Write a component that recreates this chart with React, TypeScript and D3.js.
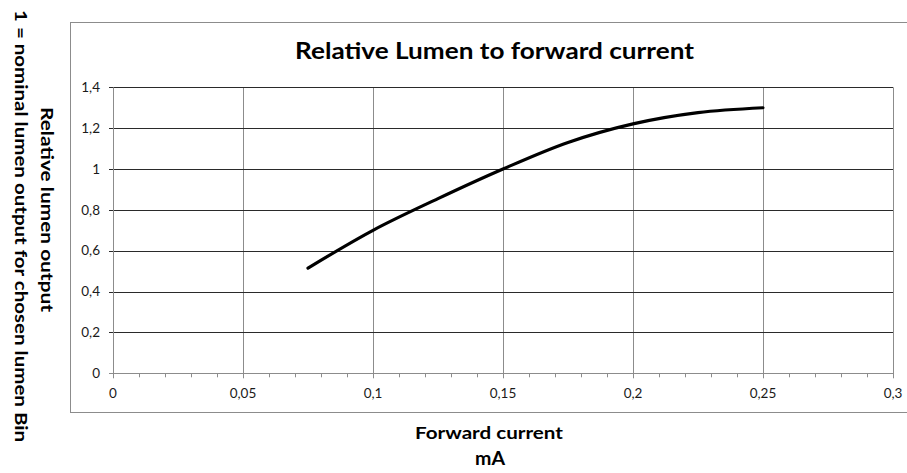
import React from "react";
import * as d3 from "d3";

const currentMA = [0.075, 0.1, 0.125, 0.15, 0.175, 0.2, 0.225, 0.25];
const relativeLumen = [0.515, 0.7, 0.855, 1.0, 1.13, 1.221, 1.276, 1.3];
const xTicks = [0, 0.05, 0.1, 0.15, 0.2, 0.25, 0.3];
const yTicks = [0, 0.2, 0.4, 0.6, 0.8, 1, 1.2, 1.4];
const titleText = "Relative Lumen to forward current";
const xTitle = ["Forward current", "mA"];
const yTitle = ["Relative lumen output", "1 = nominal lumen output for chosen lumen Bin"];

const W = 907;
const H = 473;
const FONT = "Lato, 'Open Sans', sans-serif";

export default function App() {
  const x = d3.scaleLinear().domain([0, 0.3]).range([113, 893]);
  const y = d3.scaleLinear().domain([0, 1.4]).range([373.3, 87.3]);
  const fmt = (v: number) => String(+v.toFixed(2)).replace(".", ",");
  const minor = d3.range(0, 0.3001, 0.01);
  const pts = currentMA.map((c, i) => [c, relativeLumen[i]] as [number, number]);
  const line = d3
    .line<[number, number]>()
    .x((d) => x(d[0]))
    .y((d) => y(d[1]))
    .curve(d3.curveCatmullRom.alpha(0.5));

  return (
    <svg
      width={W}
      height={H}
      style={{ position: "absolute", left: 0, top: 0, background: "#fff" }}
    >
      <rect x={0} y={0} width={W} height={H} fill="#fff" />
      <rect x={70.5} y={22.5} width={850} height={390} fill="none" stroke="#8c8c8c" strokeWidth={1} />
      {/* vertical gridlines */}
      {xTicks.map((t) => (
        <line key={"vx" + t} x1={Math.round(x(t)) + 0.5} x2={Math.round(x(t)) + 0.5} y1={y(1.4)} y2={y(0) + 5} stroke="#8c8c8c" />
      ))}
      {/* minor ticks */}
      {minor.map((t) => (
        <line key={"mx" + t} x1={Math.round(x(t)) + 0.5} x2={Math.round(x(t)) + 0.5} y1={y(0)} y2={y(0) + 4} stroke="#8c8c8c" />
      ))}
      {/* horizontal gridlines */}
      {yTicks.map((t) => (
        <line
          key={"hy" + t}
          x1={x(0) - 4}
          x2={x(0.3)}
          y1={Math.round(y(t)) + 0.5}
          y2={Math.round(y(t)) + 0.5}
          stroke={t === 0 ? "#8c8c8c" : "#2a2a2a"}
        />
      ))}
      <line x1={Math.round(x(0)) + 0.5} x2={Math.round(x(0)) + 0.5} y1={y(1.4)} y2={y(0)} stroke="#8c8c8c" />
      {/* y tick labels */}
      {yTicks.map((t) => (
        <text key={"ly" + t} x={100} y={y(t)} dy="0.35em" textAnchor="end" fontFamily={FONT} fontSize={13.5} fill="#1a1a1a">
          {fmt(t)}
        </text>
      ))}
      {/* x tick labels */}
      {xTicks.map((t) => (
        <text key={"lx" + t} x={x(t)} y={398} textAnchor="middle" fontFamily={FONT} fontSize={13.5} fill="#1a1a1a">
          {fmt(t)}
        </text>
      ))}
      {/* curve */}
      <path d={line(pts) || ""} fill="none" stroke="#000" strokeWidth={3.2} strokeLinecap="round" strokeLinejoin="round" />
      {/* title */}
      <text x={494.5} y={59} textAnchor="middle" fontFamily={FONT} fontWeight="bold" fontSize={22} fill="#000" textLength={399} lengthAdjust="spacingAndGlyphs">
        {titleText}
      </text>
      <text x={489} y={439} textAnchor="middle" fontFamily={FONT} fontWeight="bold" fontSize={17} fill="#000" textLength={148} lengthAdjust="spacingAndGlyphs">
        {xTitle[0]}
      </text>
      <text x={490} y={465} textAnchor="middle" fontFamily={FONT} fontWeight="bold" fontSize={18} fill="#000" textLength={30} lengthAdjust="spacingAndGlyphs">
        {xTitle[1]}
      </text>
      <text transform="translate(41,209.5) rotate(90)" textAnchor="middle" fontFamily={FONT} fontWeight="bold" fontSize={17} fill="#000" textLength={205} lengthAdjust="spacingAndGlyphs">
        {yTitle[0]}
      </text>
      <text transform="translate(15,226) rotate(90)" textAnchor="middle" fontFamily={FONT} fontWeight="bold" fontSize={17} fill="#000" textLength={432} lengthAdjust="spacingAndGlyphs">
        {yTitle[1]}
      </text>
    </svg>
  );
}
